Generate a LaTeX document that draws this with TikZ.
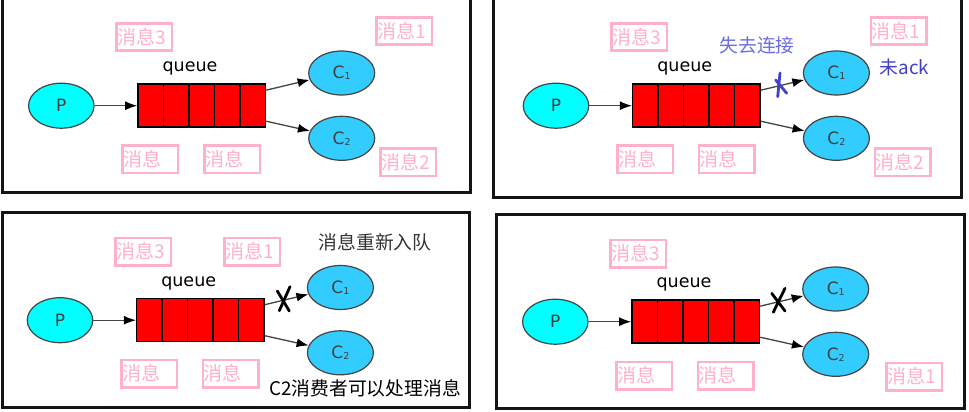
\documentclass[tikz,border=0pt]{standalone}
\usepackage{fontspec}
\setmainfont{DejaVu Sans}
\newfontfamily\cjkfont{Noto Sans CJK SC}
\usetikzlibrary{shapes.geometric,arrows.meta}
\definecolor{pinkline}{HTML}{FFB0CA}
\definecolor{pinktext}{HTML}{FFB0CA}
\definecolor{lostblue}{HTML}{6C6CE4}
\definecolor{xblue}{HTML}{4040CC}
\definecolor{consumer}{HTML}{33CCFF}
\definecolor{prodcyan}{HTML}{00FFFF}
\definecolor{pureRed}{HTML}{FF0000}
\definecolor{edgegrey}{HTML}{444444}
\tikzset{
  panelframe/.style={draw=black!92,line width=3pt,fill=white},
  pinkbox/.style={draw=pinkline,line width=2.6pt,fill=white,anchor=north west,
    minimum width=55.5pt,minimum height=27.5pt,text width=53.5pt,align=left,
    inner xsep=1pt,inner ysep=0pt,text=pinktext,font=\cjkfont\fontsize{19}{20}\selectfont},
  cell/.style={draw=black,line width=1.5pt,fill=pureRed,minimum width=25.5pt,minimum height=43pt,inner sep=0pt},
  prod/.style={ellipse,draw=edgegrey,line width=1.2pt,fill=prodcyan,minimum width=65.5pt,minimum height=45pt,inner sep=0pt,font=\fontsize{17}{17}\selectfont,text=black!75},
  cons/.style={ellipse,draw=edgegrey,line width=1.2pt,fill=consumer,minimum width=66pt,minimum height=44pt,inner sep=0pt,font=\fontsize{17}{17}\selectfont,text=black!75},
  flow/.style={draw=edgegrey,line width=1.3pt,-{Latex[length=12pt,width=9pt,black]},shorten >=0pt},
  qlabel/.style={font=\fontsize{17.5}{18}\selectfont,text=black,inner sep=0pt},
  note/.style={font=\cjkfont\fontsize{18.8}{20}\selectfont,inner sep=0pt},
  xmark/.style={line width=2.8pt,line cap=round}
}
\newcommand\subidx[1]{\raisebox{-1pt}{\fontsize{9.5}{10}\selectfont #1}}
\newcommand\mqpanel[3]{%
  \begin{scope}[shift={(#2,#3)},name prefix=#1-]
    \node[prod] (P) at (61.3,105.7) {P};
    \node[cell] (c1) at (150.7,105.7) {};
    \node[cell] (c2) at (176.2,105.7) {};
    \node[cell] (c3) at (201.7,105.7) {};
    \node[cell] (c4) at (227.2,105.7) {};
    \node[cell] (c5) at (252.7,105.7) {};
    \node[qlabel] (q) at (190,68.5) {queue};
    \node[cons] (C1) at (341.7,73) {C\subidx{1}};
    \node[cons] (C2) at (341.7,138.3) {C\subidx{2}};
    \draw[flow] (P.east) -- (c1.west);
    \draw[flow] (c5.49) -- (C1.192);
    \draw[flow] (c5.-49) -- (C2.167);
  \end{scope}}
\begin{document}
\begin{tikzpicture}[x=1pt,y=-1pt]
  \useasboundingbox (0,0) rectangle (969,412);
  \fill[white] (0,0) rectangle (969,412);
  % frames
  \draw[panelframe] (2.5,-6) rectangle (470,192);
  \draw[panelframe] (493,-6) rectangle (961,197);
  \draw[panelframe] (2.5,212) rectangle (469,407);
  \draw[panelframe] (496,214) rectangle (964,408);
  % panels
  \mqpanel{a}{0}{0}
  \mqpanel{b}{494.7}{0}
  \mqpanel{c}{-1.3}{214.5}
  \mqpanel{d}{494}{216}
  % panel 1 boxes
  \node[pinkbox] (a3) at (115,22) {消息3};
  \node[pinkbox] (a1) at (375,16) {消息1};
  \node[pinkbox] (am1) at (121,144) {消息};
  \node[pinkbox] (am2) at (203,144) {消息};
  \node[pinkbox] (a2) at (379,147) {消息2};
  % panel 2 boxes
  \node[pinkbox] (b3) at (610,22) {消息3};
  \node[pinkbox] (b1) at (869.5,16) {消息1};
  \node[pinkbox] (bm1) at (616,144) {消息};
  \node[pinkbox] (bm2) at (697.5,144) {消息};
  \node[pinkbox] (b2) at (873.5,147) {消息2};
  \node[note,text=lostblue] (lost) at (757,45) {失去连接};
  \node[note,text=xblue,anchor=west] (noack) at (879.5,67) {未ack};
  \draw[xmark,xblue] (780,73) -- (777.7,96.7);
  \draw[xmark,xblue] (775.7,80) -- (786.7,93.3);
  % panel 3 boxes
  \node[pinkbox] (c3b) at (114,236.5) {消息3};
  \node[pinkbox] (c1b) at (223,236.5) {消息1};
  \node[pinkbox] (cm1) at (120,358.5) {消息};
  \node[pinkbox] (cm2) at (201.5,358.5) {消息};
  \node[note,text=black!80] (requeue) at (375,242) {消息重新入队};
  \node[note,text=black,anchor=west] (c2can) at (269,388.5) {C2消费者可以处理消息};
  \draw[xmark,black] (290,286.7) -- (279.3,310.7);
  \draw[xmark,black] (277.3,291) -- (289.3,311);
  % panel 4 boxes
  \node[pinkbox] (d3) at (609,238.5) {消息3};
  \node[pinkbox] (dm1) at (615,360.5) {消息};
  \node[pinkbox] (dm2) at (696.5,360.5) {消息};
  \node[pinkbox] (d1) at (885,361.5) {消息1};
  \draw[xmark,black] (785,288.3) -- (773.3,312.3);
  \draw[xmark,black] (771.7,293.3) -- (785,311);
\end{tikzpicture}
\end{document}
